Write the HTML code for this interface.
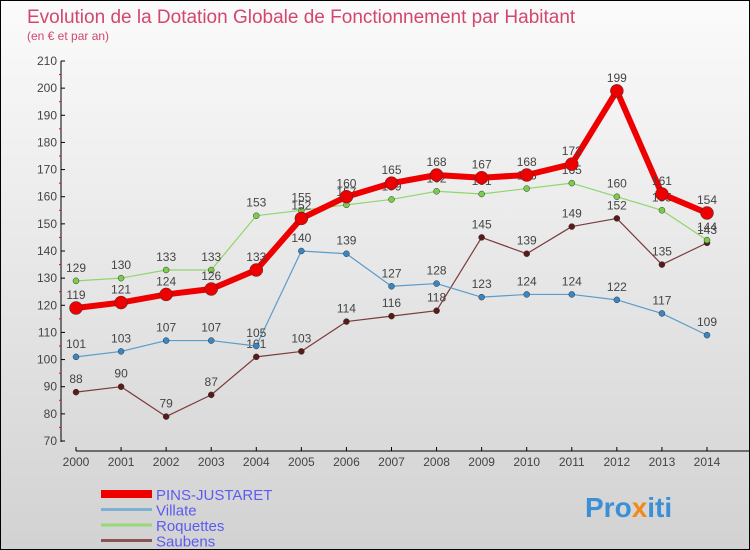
<!DOCTYPE html>
<html><head><meta charset="utf-8"><style>
body{margin:0}
#c{position:relative;width:748px;height:548px;border:1px solid #000;background:linear-gradient(#fbfbfb,#d2d2d2);overflow:hidden;font-family:"Liberation Sans",sans-serif}
</style></head><body>
<div id="c">
<svg id="s" width="748" height="548" style="position:absolute;left:0;top:0" font-family="Liberation Sans, sans-serif">
<text x="26" y="22" font-size="19" fill="#d4466e">Evolution de la Dotation Globale de Fonctionnement par Habitant</text>
<text x="26" y="39" font-size="12" fill="#d4466e">(en € et par an)</text>
<g id="axes"></g><g id="series"></g><g id="legend"></g>
<text x="584" y="516" font-size="28" font-weight="bold" fill="#3a8fd6">Pro<tspan fill="#f08a1a">x</tspan>iti</text>
</svg>
</div>
<script>
const years=[2000,2001,2002,2003,2004,2005,2006,2007,2008,2009,2010,2011,2012,2013,2014];
const yTicks=[70,80,90,100,110,120,130,140,150,160,170,180,190,200,210];
const pins=[119,121,124,126,133,152,160,165,168,167,168,172,199,161,154];
const villate=[101,103,107,107,105,140,139,127,128,123,124,124,122,117,109];
const roquettes=[129,130,133,133,153,155,157,159,162,161,163,165,160,155,144];
const saubens=[88,90,79,87,101,103,114,116,118,145,139,149,152,135,143];
const names=["PINS-JUSTARET","Villate","Roquettes","Saubens"];
const NS="http://www.w3.org/2000/svg";
const X=i=>75+i*(631/14);
const Y=v=>440-(v-70)*(380/140);
function mk(t,a,p){const e=document.createElementNS(NS,t);for(const k in a)e.setAttribute(k,a[k]);p.appendChild(e);return e;}
const ax=document.getElementById('axes');
let l=mk('line',{x1:60,y1:60,x2:60,y2:441,stroke:'#000'},ax);


yTicks.forEach(v=>{mk('line',{x1:60,y1:Y(v),x2:64,y2:Y(v),stroke:'#000'},ax);
 if(v<210)mk('line',{x1:58,y1:Y(v+5),x2:60,y2:Y(v+5),stroke:'#f00'},ax);
 const t=mk('text',{x:56,y:Y(v)+4,'font-size':12,fill:'#444','text-anchor':'end'},ax);t.textContent=v;
 
 });
l=mk('line',{x1:75,y1:450,x2:748,y2:450,stroke:'#000'},ax);


years.forEach((y,i)=>{mk('line',{x1:X(i),y1:446,x2:X(i),y2:450,stroke:'#000'},ax);
 const t=mk('text',{x:X(i),y:465,'font-size':12,fill:'#444','text-anchor':'middle'},ax);t.textContent=y;
 
 });
const sg=document.getElementById('series');
function draw(data,col,dot,w,r,nm){
 const g=mk('g',{},sg);
 
 
 mk('polyline',{points:data.map((v,i)=>X(i)+','+Y(v)).join(' '),fill:'none',stroke:col,'stroke-width':w,'stroke-linejoin':'round'},g);
 data.forEach((v,i)=>{const c=mk('circle',{cx:X(i),cy:Y(v),r:r,fill:dot,stroke:'#333','stroke-width':0.5},g);
  
  
  const t=mk('text',{x:X(i),y:Y(v)-9,'font-size':12,fill:'#444','text-anchor':'middle'},g);t.textContent=v;
  
  });
}
draw(saubens,'#7a3b3b','#5a1a1a',1.2,3,'saubens');
draw(villate,'#5a9ccc','#3a86c4',1.2,3,'villate');
draw(roquettes,'#8fd66a','#7acc4a',1.2,3,'roquettes');
draw(pins,'#ee0000','#ee0000',6,6.5,'pins-justaret');
const lg=document.getElementById('legend');
const lc=['#ee0000','#7fb0d0','#98d878','#8a5555'],lw=[8,3,3,3];
names.forEach((n,i)=>{const y=493+i*15.5;
 const e=mk('line',{x1:100,y1:y,x2:151,y2:y,stroke:lc[i],'stroke-width':lw[i]},lg);
 
 
 const t=mk('text',{x:155,y:y+6,'font-size':15,fill:'#5c5cf0'},lg);t.textContent=n;
 
 });
</script>
</body></html>
